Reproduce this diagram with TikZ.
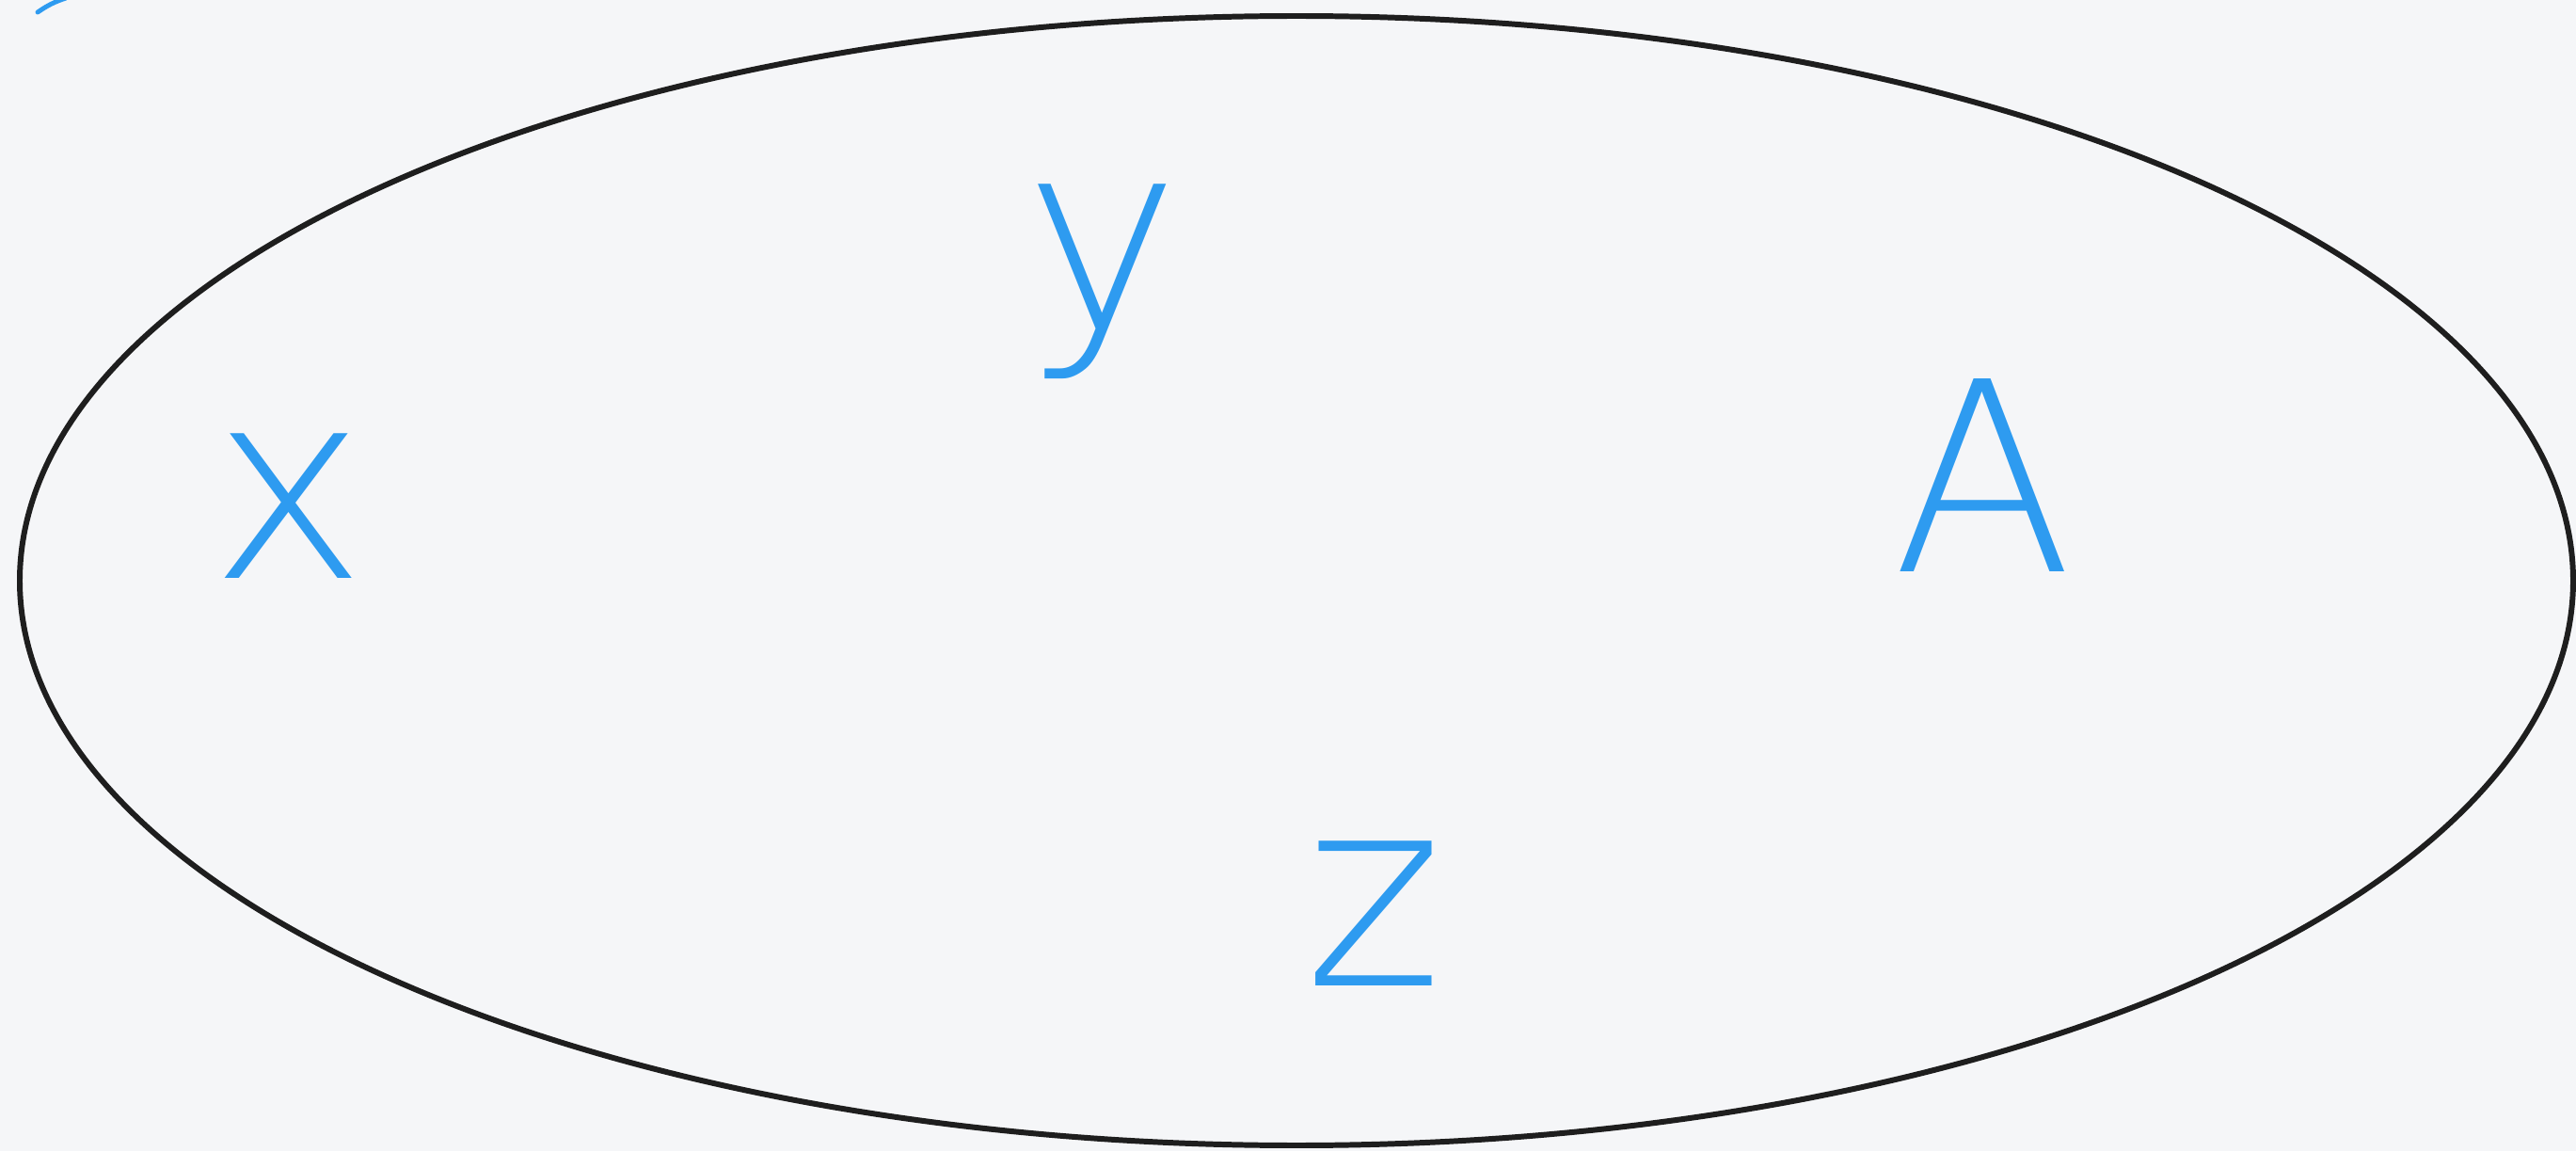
\documentclass[tikz,border=0pt]{standalone}
\usepackage{fontspec}
\newfontfamily\handfont{DejaVu Sans ExtraLight}
\usepackage{tikz}
\usetikzlibrary{positioning}
\definecolor{paper}{RGB}{245,246,248}
\definecolor{rim}{RGB}{30,30,30}
\definecolor{pen}{RGB}{46,155,240}
\tikzset{
  elt/.style={text=pen,inner sep=0pt,font=\handfont\fontsize{80}{80}\selectfont},
  stroke/.style={draw=pen,line width=1.4pt,line cap=round},
}

\begin{document}
\begin{tikzpicture}
  \fill[paper] (0,0) rectangle (27.38,12.23);
  \useasboundingbox (0,0) rectangle (27.38,12.23);
  \draw[rim,line width=1.7pt] (13.78,6.06) ellipse [x radius=13.57,y radius=6.00];
  \node[elt] (ex) at (3.07,6.85) {x};
  \node[elt] (ey) at (11.72,9.24) {y};
  \node[elt] (eA) at (21.08,7.18) {A};
  \node[elt] (ez) at (14.60,2.52) {z};
  \draw[stroke] (0.40,12.10) to[bend left=8] (0.70,12.25);
\end{tikzpicture}
\end{document}
